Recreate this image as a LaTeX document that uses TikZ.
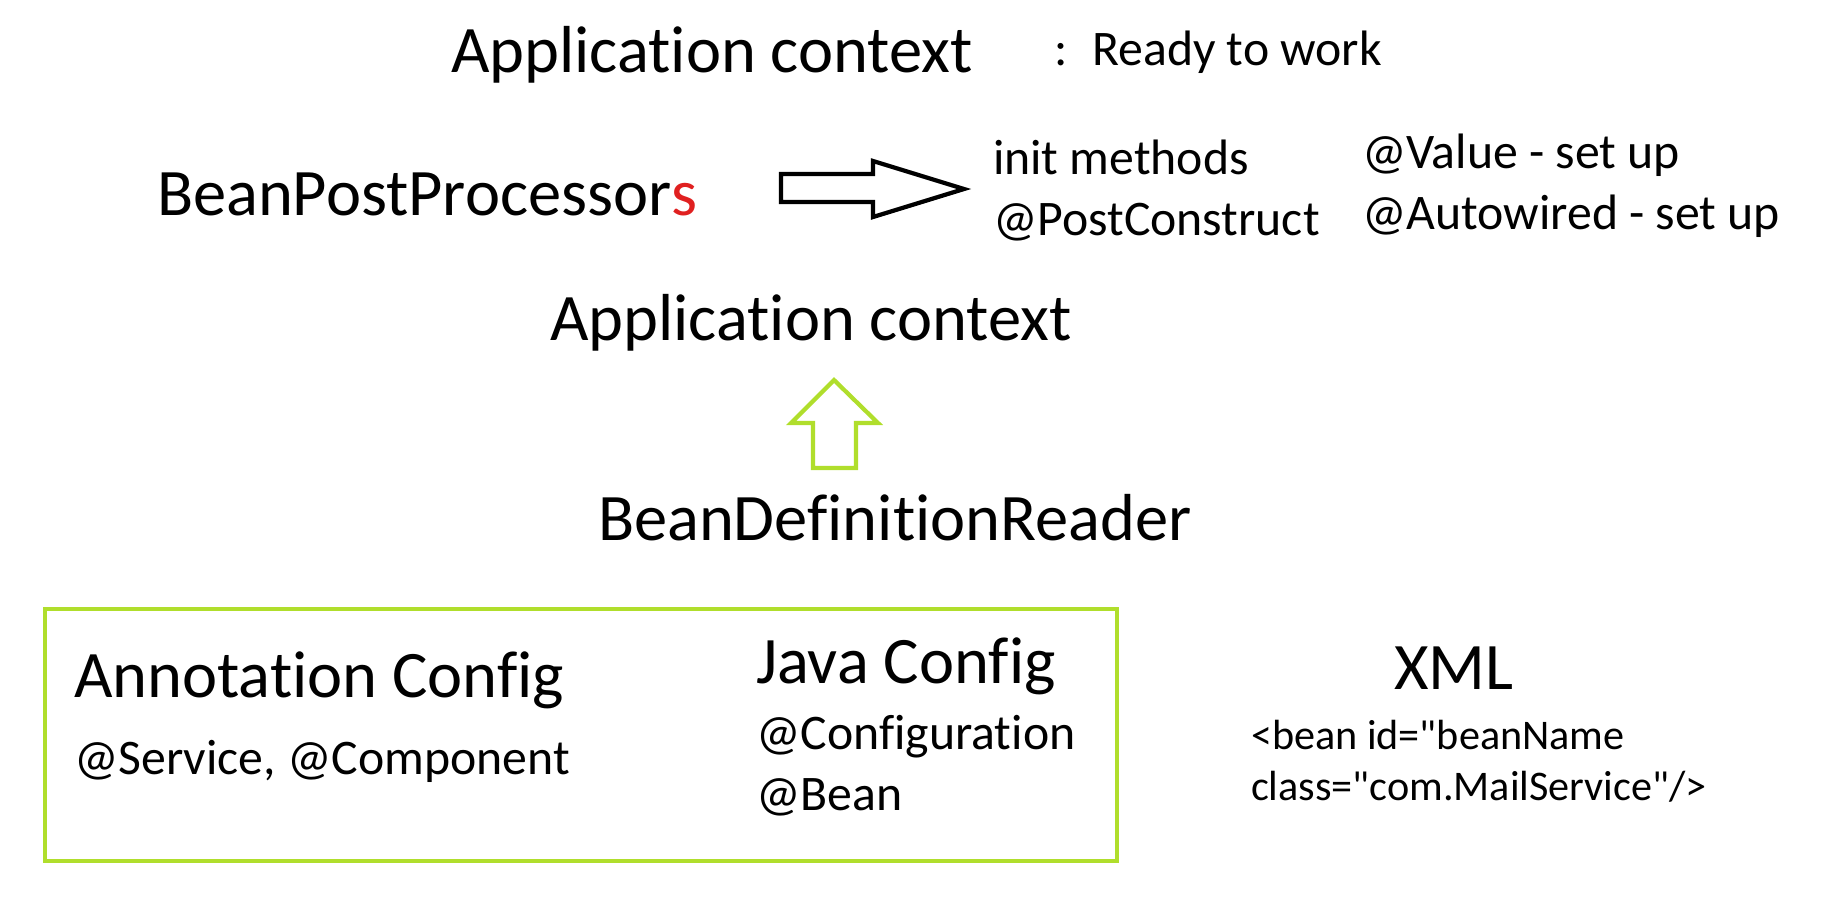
\documentclass[tikz,border=0pt]{standalone}
\usepackage{fontspec}
\setmainfont{Carlito}[RawFeature={-liga;-clig;-dlig;-calt}]
\definecolor{springlime}{HTML}{B0DE2C}
\definecolor{ppred}{HTML}{E02020}
\tikzset{
  px/.style={x={(0.01cm,0cm)}, y={(0cm,-0.01cm)}, line join=miter,
    every node/.style={anchor=base west, inner sep=0pt, outer sep=0pt}},
  headtxt/.style={font=\fontsize{18.9}{22}\selectfont},
  notetxt/.style={font=\fontsize{14.15}{17}\selectfont},
  codetxt/.style={font=\fontsize{12.0}{14}\selectfont},
  blockarrow/.style={draw=black, fill=white, line width=1.2pt},
  limearrow/.style={draw=springlime, fill=white, line width=1.2pt},
  limebox/.style={draw=springlime, line width=1.3pt},
}

\begin{document}
\begin{tikzpicture}[px]
  \useasboundingbox (0,0) rectangle (1822,912);
  % top: ready context
  \node[headtxt] (ctxready) at (451,72) {Application context};
  \node[notetxt] (ready) at (1054,65) {:\hspace{0.5em}Ready to work};
  % post processors and what they do
  \node[headtxt] (bpp) at (157,215) {BeanPostProcessor\textcolor{ppred}{s}};
  \draw[blockarrow] (781,174) -- (873,174) -- (873,161) -- (964,189)
    -- (873,217) -- (873,202) -- (781,202) -- cycle;
  \node[notetxt] (init) at (993,174) {init methods};
  \node[notetxt] (postc) at (993,235) {@PostConstruct};
  \node[notetxt] (value) at (1362,168) {@Value - set up};
  \node[notetxt] (autow) at (1362,229) {@Autowired - set up};
  % context built from the reader
  \node[headtxt] (ctx) at (550,340) {Application context};
  \draw[limearrow] (813,468) -- (813,423) -- (791,423) -- (834,380)
    -- (878,423) -- (856,423) -- (856,468) -- cycle;
  \node[headtxt] (reader) at (598,540) {BeanDefinitionReader};
  % config sources
  \draw[limebox] (45,609) rectangle (1117,861);
  \node[headtxt] (annot) at (74,697) {Annotation Config};
  \node[notetxt] (annotex) at (74,774) {@Service, @Component};
  \node[headtxt] (java) at (756,683) {Java Config};
  \node[notetxt] (javaconf) at (756,749) {@Configuration};
  \node[notetxt] (javabean) at (756,810) {@Bean};
  \node[headtxt] (xml) at (1394,689) {XML};
  \node[codetxt] (xmla) at (1251,749) {<bean id=\textquotedbl beanName};
  \node[codetxt] (xmlb) at (1251,800) {class=\textquotedbl com.MailService\textquotedbl/>};
\end{tikzpicture}
\end{document}
